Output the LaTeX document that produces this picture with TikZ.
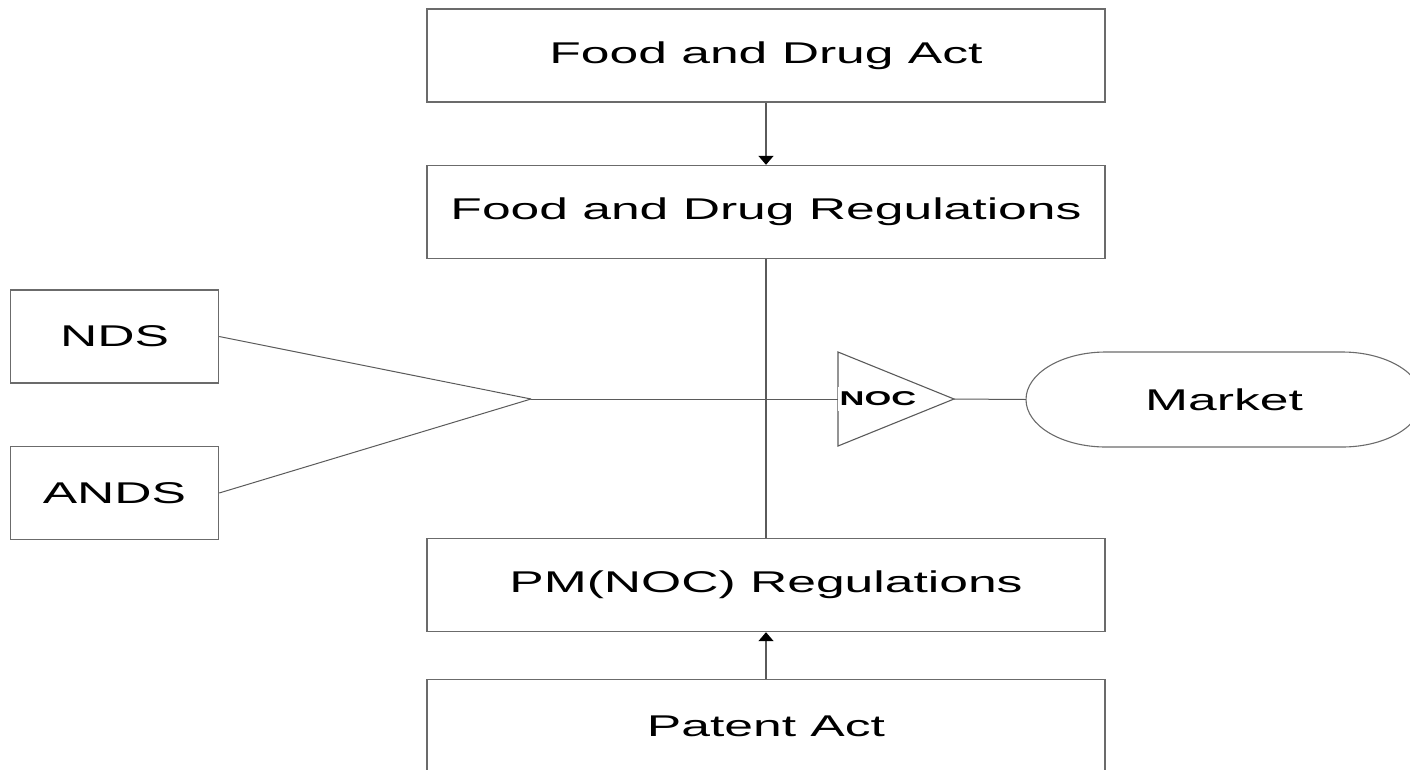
\documentclass[tikz,border=0pt]{standalone}
\usepackage{fontspec}
\usetikzlibrary{arrows.meta}
\newfontfamily\boxfont[FakeStretch=1.72]{Liberation Sans}
\definecolor{edgegray}{HTML}{6B6B6B}
\definecolor{linegray}{HTML}{5A5A5A}
\begin{document}
\begin{tikzpicture}[x=1pt,y=-1pt,
  box/.style={draw=edgegray, line width=1.4pt, minimum width=678pt, minimum height=93pt,
    inner sep=0pt, font=\boxfont\fontsize{30}{36}\selectfont},
  sidebox/.style={box, minimum width=208pt},
  link/.style={draw=linegray, line width=1pt},
  trunk/.style={draw=linegray, line width=1.5pt},
  feed/.style={trunk, -{Triangle[width=15pt,length=9pt,color=black]}},
]
\clip (0,0) rectangle (1410,769);
\useasboundingbox (0,0) rectangle (1410,769);

% main column of acts and regulations
\node[box] (fda) at (766,55.5) {Food and Drug Act};
\node[box] (fdr) at (766,212) {Food and Drug Regulations};
\node[box] (pm)  at (766,585) {PM(NOC) Regulations};
\node[box] (pat) at (766,726) {Patent Act};

% submissions
\node[sidebox] (nds)  at (114.5,336.5) {NDS};
\node[sidebox] (ands) at (114.5,493) {ANDS};

% meeting point of the two submissions
\coordinate (join) at (531,399);

% NOC gate
\coordinate (gateW) at (838,399);
\coordinate (gateE) at (954,399);
\draw[link, line width=1.1pt] (838,352) -- (gateE) -- (838,446) -- cycle;

% market
\node[minimum width=396pt, minimum height=95pt, inner sep=0pt,
  font=\boxfont\fontsize{30}{36}\selectfont] (market) at (1224,399.5) {Market};
\draw[edgegray, line width=1.1pt]
  (1106,352) -- (1342,352) arc[start angle=-90, end angle=90, x radius=80, y radius=47.5]
  -- (1106,447) arc[start angle=90, end angle=270, x radius=80, y radius=47.5] -- cycle;

% connectors
\draw[feed] (fda.south) -- (fdr.north);
\draw[feed] (pat.north) -- (pm.south);
\draw[trunk] (fdr.south) -- (pm.north);
\draw[link] (nds.east) -- (join);
\draw[link] (ands.east) -- (join);
\draw[link] (join) -- (gateW);
\draw[link] (gateE) -- (market.west);

% gate label
\node[anchor=west, fill=white, inner xsep=1.5pt, inner ysep=5pt,
  font=\boxfont\bfseries\fontsize{20}{24}\selectfont] (noc) at (gateW) {NOC};
\end{tikzpicture}
\end{document}
